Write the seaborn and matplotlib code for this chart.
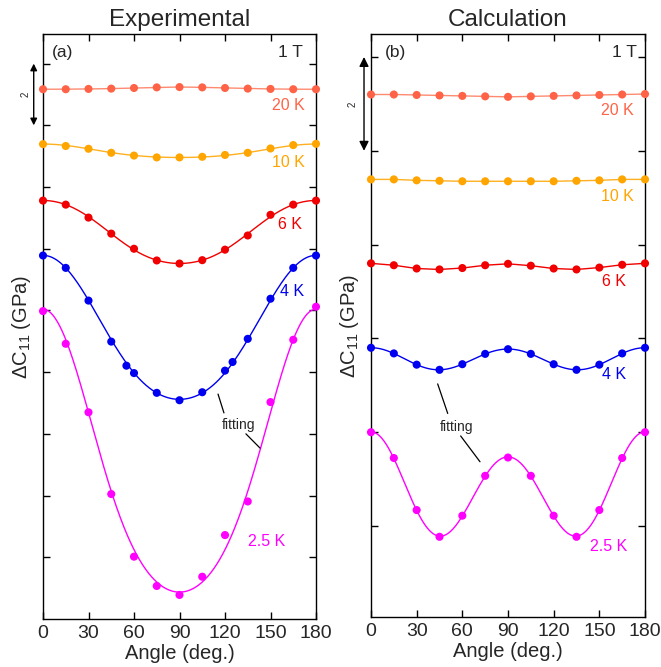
import numpy as np
import pandas as pd
import matplotlib
matplotlib.use("Agg")
import matplotlib.pyplot as plt
import seaborn as sns

sns.set_theme(style="ticks")
plt.rcParams['font.family'] = ['Liberation Sans', 'DejaVu Sans']
plt.rcParams['mathtext.fontset'] = 'custom'
plt.rcParams['mathtext.rm'] = 'Liberation Sans'
plt.rcParams['mathtext.default'] = 'regular'

# ---------------- data ----------------
angles = [0, 15, 30, 45, 60, 75, 90, 105, 120, 135, 150, 165, 180]
angles_4k_exp = [0, 15, 30, 45, 55, 60, 75, 90, 105, 120, 125, 135, 150, 165, 180]

exp_20K = [17.17, 17.17, 17.18, 17.19, 17.21, 17.23, 17.24, 17.23, 17.21, 17.19, 17.18, 17.17, 17.17]
exp_10K = [15.39, 15.33, 15.24, 15.11, 15.02, 14.96, 14.96, 14.98, 15.04, 15.11, 15.25, 15.36, 15.40]
exp_6K = [13.56, 13.43, 13.01, 12.49, 12.00, 11.62, 11.52, 11.63, 11.97, 12.43, 13.10, 13.43, 13.56]
exp_4K = [11.78, 11.38, 10.32, 8.99, 8.21, 7.97, 7.33, 7.09, 7.35, 8.05, 8.33, 9.08, 10.38, 11.38, 11.78]
exp_2p5K = [9.98, 8.92, 6.70, 4.05, 2.02, 1.07, 0.78, 1.37, 2.72, 3.81, 7.03, 9.05, 10.12]

calc_20K = [11.20, 11.20, 11.19, 11.18, 11.17, 11.16, 11.15, 11.16, 11.17, 11.18, 11.19, 11.20, 11.21]
calc_10K = [9.39, 9.39, 9.37, 9.36, 9.35, 9.35, 9.35, 9.35, 9.35, 9.36, 9.37, 9.39, 9.39]
calc_6K = [7.60, 7.56, 7.49, 7.47, 7.50, 7.56, 7.59, 7.55, 7.49, 7.47, 7.51, 7.57, 7.60]
calc_4K = [5.80, 5.68, 5.44, 5.33, 5.45, 5.67, 5.77, 5.67, 5.45, 5.33, 5.44, 5.68, 5.80]
calc_2p5K = [4.00, 3.45, 2.34, 1.77, 2.22, 3.07, 3.46, 3.07, 2.22, 1.77, 2.34, 3.45, 4.00]

temp_labels = ["20 K", "10 K", "6 K", "4 K", "2.5 K"]
colors = ["#ff6347", "#ffa500", "#f00000", "#0000f0", "#ff00ff"]
line_colors = ["#ff8a70", "#ffb020", "#f00000", "#0000f0", "#ff00ff"]
x_ticks = [0, 30, 60, 90, 120, 150, 180]


def harmonic_fit(x, y, n=3):
    t = np.radians(np.asarray(x, float))
    A = np.column_stack([np.cos(2 * k * t) for k in range(n + 1)])
    coef, *_ = np.linalg.lstsq(A, np.asarray(y, float), rcond=None)
    xs = np.linspace(0, 180, 361)
    ts = np.radians(xs)
    B = np.column_stack([np.cos(2 * k * ts) for k in range(n + 1)])
    return xs, B @ coef


fig = plt.figure(figsize=(6.61, 6.67), dpi=100)
axA = fig.add_axes([43 / 661, 1 - 619 / 667, 273 / 661, 585 / 667])
axB = fig.add_axes([371 / 661, 1 - 617 / 667, 274 / 661, 583 / 667])

exp_sets = [(angles, exp_20K), (angles, exp_10K), (angles, exp_6K),
            (angles_4k_exp, exp_4K), (angles, exp_2p5K)]
calc_sets = [(angles, calc_20K), (angles, calc_10K), (angles, calc_6K),
             (angles, calc_4K), (angles, calc_2p5K)]

MS = 34

# Panel (a): all fitted curves
for (x, y), c, lc in zip(exp_sets, colors, line_colors):
    xs, ys = harmonic_fit(x, y)
    sns.lineplot(x=xs, y=ys, ax=axA, color=lc, lw=1.0, zorder=2)
    sns.scatterplot(x=x, y=y, ax=axA, color=c, s=MS, edgecolor='none', zorder=3, clip_on=False)

# Panel (b): first three connected, last two fitted
for i, ((x, y), c, lc) in enumerate(zip(calc_sets, colors, line_colors)):
    if i < 3:
        sns.lineplot(x=x, y=y, ax=axB, color=lc, lw=1.0, zorder=2)
    else:
        xs, ys = harmonic_fit(x, y)
        sns.lineplot(x=xs, y=ys, ax=axB, color=lc, lw=1.0, zorder=2)
    sns.scatterplot(x=x, y=y, ax=axB, color=c, s=MS, edgecolor='none', zorder=3, clip_on=False)

for ax, ylim, title in [(axA, (0, 18.96), "Experimental"), (axB, (0.06, 12.49), "Calculation")]:
    ax.set_xlim(0, 180)
    ax.set_ylim(*ylim)
    ax.set_xticks(x_ticks)
    ax.set_yticks(np.arange(2, ylim[1], 2))
    ax.set_yticklabels([])
    ax.tick_params(axis='both', which='both', direction='in', length=5, width=1.0,
                   top=True, right=True, pad=4, color='black')
    ax.tick_params(axis='x', labelsize=14)
    for s in ax.spines.values():
        s.set_visible(True)
        s.set_linewidth(1.0)
        s.set_color('black')
    ax.set_xlabel("Angle (deg.)", fontsize=14.5, labelpad=2)
    ax.set_ylabel("ΔC$_{11}$ (GPa)", fontsize=14.5, labelpad=3)
    ax.set_title(title, fontsize=17.5, pad=6)
    ax.grid(False)

# Panel (a) texts
axA.text(5.9, 18.35, "(a)", fontsize=12.5, va='center', ha='left')
axA.text(171.4, 18.35, "1 T", fontsize=12.5, va='center', ha='right')
a_label_pos = [(172.7, 16.63), (172.7, 14.81), (170.8, 12.80), (172.1, 10.60), (159.6, 2.51)]
for (tx, ty), lab, c in zip(a_label_pos, temp_labels, colors):
    axA.text(tx, ty, lab, fontsize=11.5, color=c, va='center', ha='right')
axA.text(128.6, 6.29, "fitting", fontsize=10, va='center', ha='center')
axA.plot([115.4, 119.3], [7.29, 6.68], color='black', lw=0.9)
axA.plot([133.8, 143.1], [6.00, 5.54], color='black', lw=0.9)

# Panel (b) texts
axB.text(9.2, 12.09, "(b)", fontsize=12.5, va='center', ha='left')
axB.text(174.7, 12.09, "1 T", fontsize=12.5, va='center', ha='right')
b_label_pos = [(172.8, 10.86), (172.8, 9.02), (167.5, 7.21), (167.5, 5.22), (168.2, 1.56)]
for (tx, ty), lab, c in zip(b_label_pos, temp_labels, colors):
    axB.text(tx, ty, lab, fontsize=11.5, color=c, va='center', ha='right')
axB.text(56.3, 4.12, "fitting", fontsize=10, va='center', ha='center')
axB.plot([43.8, 50.4], [5.03, 4.40], color='black', lw=0.9)
axB.plot([58.9, 71.6], [3.92, 3.37], color='black', lw=0.9)

# Scale arrows (2 GPa)
axA.annotate("", xy=(-0.034, 16.0), xytext=(-0.034, 18.0),
             xycoords=('axes fraction', 'data'), textcoords=('axes fraction', 'data'),
             arrowprops=dict(arrowstyle='<|-|>', color='black', lw=1.0,
                             mutation_scale=10, shrinkA=0, shrinkB=0), annotation_clip=False)
axA.text(-0.064, 17.0, "2", transform=axA.get_yaxis_transform(), rotation=90,
         fontsize=7, va='center', ha='center')
axB.annotate("", xy=(-0.0255, 10.0), xytext=(-0.0255, 12.0),
             xycoords=('axes fraction', 'data'), textcoords=('axes fraction', 'data'),
             arrowprops=dict(arrowstyle='<|-|>', color='black', lw=1.0,
                             mutation_scale=14, shrinkA=0, shrinkB=0), annotation_clip=False)
axB.text(-0.068, 11.0, "2", transform=axB.get_yaxis_transform(), rotation=90,
         fontsize=7, va='center', ha='center')

fig.savefig("out.png", dpi=100)
